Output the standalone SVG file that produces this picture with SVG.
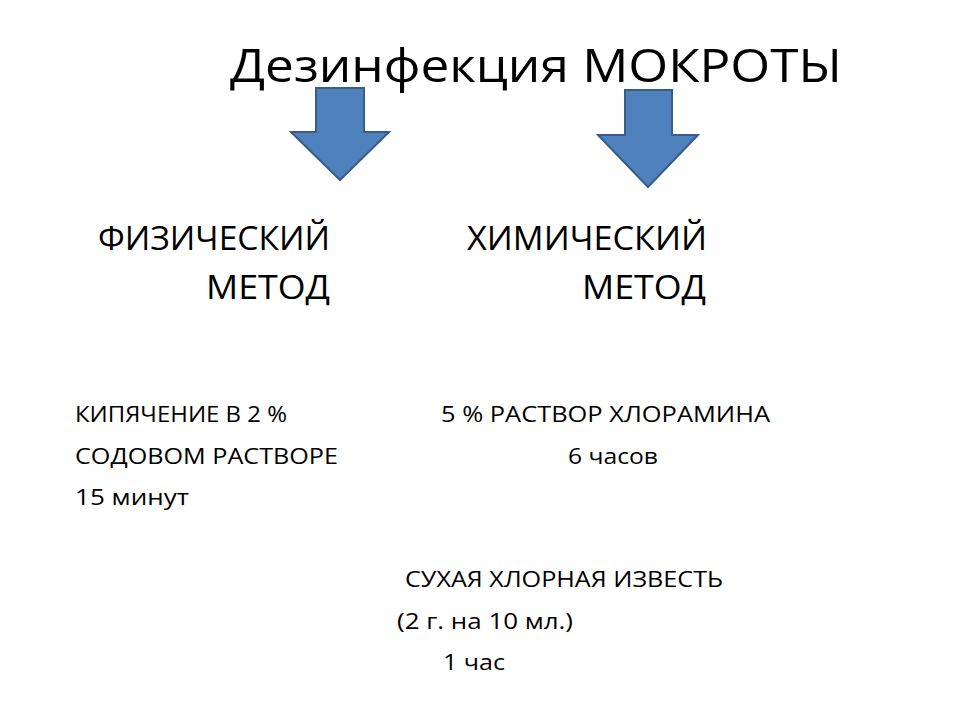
<svg xmlns="http://www.w3.org/2000/svg" width="960" height="720" viewBox="0 0 960 720">
<style>
text{font-family:"Open Sans","Liberation Sans",sans-serif;fill:#000}
.t{font-size:46px}
.h{font-size:33px}
.b{font-size:22px}
.arr{fill:#4F81BD;stroke:#385D8A;stroke-width:2}
</style>
<rect width="960" height="720" fill="#fff"/>
<g id="title"><text class="t" x="230" y="82" textLength="612" lengthAdjust="spacingAndGlyphs">Дезинфекция МОКРОТЫ</text></g>
<g id="connectors">
<path class="arr" d="M316,88 H364 V132 H389 L340,180 L291,132 H316 Z"/>
<path class="arr" d="M625,90 H672 V135 H698 L648,187 L598,135 H625 Z"/>
</g>
<g id="physical">
<text class="h" x="330" y="250" text-anchor="end" textLength="232" lengthAdjust="spacingAndGlyphs">ФИЗИЧЕСКИЙ</text>
<text class="h" x="330" y="299" text-anchor="end" textLength="124" lengthAdjust="spacingAndGlyphs">МЕТОД</text>
</g>
<g id="chemical">
<text class="h" x="707" y="250" text-anchor="end" textLength="240" lengthAdjust="spacingAndGlyphs">ХИМИЧЕСКИЙ</text>
<text class="h" x="706" y="299" text-anchor="end" textLength="124" lengthAdjust="spacingAndGlyphs">МЕТОД</text>
</g>
<g id="boiling">
<text class="b" x="75" y="422" textLength="212" lengthAdjust="spacingAndGlyphs">КИПЯЧЕНИЕ В  2 %</text>
<text class="b" x="75" y="464" textLength="263" lengthAdjust="spacingAndGlyphs">СОДОВОМ РАСТВОРЕ</text>
<text class="b" x="75" y="505" textLength="114" lengthAdjust="spacingAndGlyphs">15 минут</text>
</g>
<g id="chloramine">
<text class="b" x="441" y="422" textLength="329" lengthAdjust="spacingAndGlyphs">5 % РАСТВОР ХЛОРАМИНА</text>
<text class="b" x="568" y="464" textLength="90" lengthAdjust="spacingAndGlyphs">6 часов</text>
</g>
<g id="lime">
<text class="b" x="405" y="587" textLength="318" lengthAdjust="spacingAndGlyphs">СУХАЯ ХЛОРНАЯ ИЗВЕСТЬ</text>
<text class="b" x="397" y="629" textLength="176" lengthAdjust="spacingAndGlyphs">(2 г. на 10 мл.)</text>
<text class="b" x="443" y="670" textLength="62" lengthAdjust="spacingAndGlyphs">1 час</text>
</g>
</svg>
